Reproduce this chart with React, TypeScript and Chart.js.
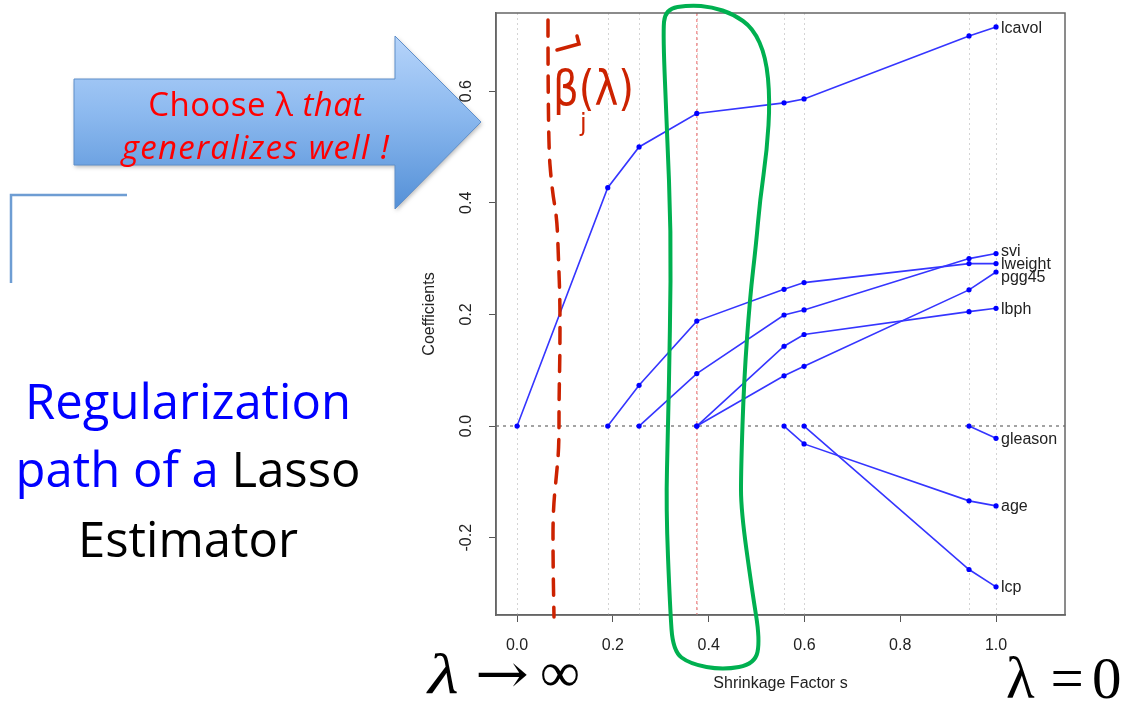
import React, { useEffect, useRef } from 'react';
import { Chart, registerables } from 'chart.js';

Chart.register(...registerables);

// ---------- data ----------
const shrinkage = [0, 0.1893, 0.2547, 0.3752, 0.5574, 0.5992, 0.9436, 1.0];
const lcavol = [0, 0.427, 0.5, 0.56, 0.579, 0.586, 0.699, 0.715];
const lweight = [null, 0, 0.073, 0.188, 0.245, 0.257, 0.291, 0.291];
const svi = [null, null, 0, 0.094, 0.199, 0.208, 0.3, 0.309];
const lbph = [null, null, null, 0, 0.143, 0.164, 0.205, 0.211];
const pgg45 = [null, null, null, 0, 0.09, 0.107, 0.244, 0.276];
const age = [null, null, null, null, 0, -0.032, -0.134, -0.143];
const lcp = [null, null, null, null, null, 0, -0.257, -0.288];
const gleason = [null, null, null, null, null, null, 0, -0.022];
const seriesNames = ['lcavol', 'lweight', 'svi', 'lbph', 'pgg45', 'age', 'lcp', 'gleason'];
const seriesValues = [lcavol, lweight, svi, lbph, pgg45, age, lcp, gleason];
const xTicks = [0, 0.2, 0.4, 0.6, 0.8, 1.0];
const yTicks = [-0.2, 0, 0.2, 0.4, 0.6];
const chosenS = 0.3752;

const AXIS_FONT = "'Liberation Sans', Arial, Helvetica, sans-serif";
// small vertical nudges (px) so crowded end labels separate like the original
const labelNudge: Record<string, number> = { svi: -3, lweight: 0, pgg45: 5, lcavol: 1 };

type Pt = [number, number];

function smoothPath(ctx: CanvasRenderingContext2D, pts: Pt[], closed: boolean) {
  ctx.beginPath();
  if (closed) {
    const n = pts.length;
    const mid = (a: Pt, b: Pt): Pt => [(a[0] + b[0]) / 2, (a[1] + b[1]) / 2];
    const m0 = mid(pts[n - 1], pts[0]);
    ctx.moveTo(m0[0], m0[1]);
    for (let i = 0; i < n; i++) {
      const p = pts[i];
      const m = mid(p, pts[(i + 1) % n]);
      ctx.quadraticCurveTo(p[0], p[1], m[0], m[1]);
    }
    ctx.closePath();
  } else {
    ctx.moveTo(pts[0][0], pts[0][1]);
    for (let i = 1; i < pts.length - 1; i++) {
      const p = pts[i];
      const m: Pt = [(p[0] + pts[i + 1][0]) / 2, (p[1] + pts[i + 1][1]) / 2];
      ctx.quadraticCurveTo(p[0], p[1], m[0], m[1]);
    }
    const last = pts[pts.length - 1];
    ctx.lineTo(last[0], last[1]);
  }
}

const slidePlugin = {
  id: 'slideDecor',
  beforeDraw(chart: any) {
    const ctx: CanvasRenderingContext2D = chart.ctx;
    ctx.save();
    ctx.fillStyle = '#ffffff';
    ctx.fillRect(0, 0, chart.width, chart.height);
    // big blue arrow
    const arrow = () => {
      ctx.beginPath();
      ctx.moveTo(74, 79);
      ctx.lineTo(395, 79);
      ctx.lineTo(395, 36);
      ctx.lineTo(481, 122);
      ctx.lineTo(395, 209);
      ctx.lineTo(395, 165);
      ctx.lineTo(74, 165);
      ctx.closePath();
    };
    const g = ctx.createLinearGradient(0, 36, 0, 209);
    g.addColorStop(0, '#b6d4fa');
    g.addColorStop(0.45, '#8cb9ef');
    g.addColorStop(1, '#5490d7');
    ctx.shadowColor = 'rgba(0,0,0,0.28)';
    ctx.shadowBlur = 4;
    ctx.shadowOffsetX = 1;
    ctx.shadowOffsetY = 2;
    arrow();
    ctx.fillStyle = g;
    ctx.fill();
    ctx.shadowColor = 'transparent';
    ctx.strokeStyle = '#5f8fca';
    ctx.lineWidth = 1;
    ctx.stroke();
    // corner bracket
    ctx.strokeStyle = '#6e9dd3';
    ctx.lineWidth = 2.5;
    ctx.beginPath();
    ctx.moveTo(127, 195);
    ctx.lineTo(11, 195);
    ctx.lineTo(11, 283);
    ctx.stroke();
    ctx.restore();
  },
  beforeDatasetsDraw(chart: any) {
    const ctx: CanvasRenderingContext2D = chart.ctx;
    const { left, right, top, bottom } = chart.chartArea;
    const xs = chart.scales.x;
    const ys = chart.scales.y;
    ctx.save();
    // step lines
    ctx.strokeStyle = '#d4d4d4';
    ctx.lineWidth = 1;
    ctx.setLineDash([2, 3]);
    shrinkage.forEach((s) => {
      const px = Math.round(xs.getPixelForValue(s)) + 0.5;
      ctx.beginPath();
      ctx.moveTo(px, top);
      ctx.lineTo(px, bottom);
      ctx.stroke();
    });
    // chosen s
    ctx.strokeStyle = '#f29a9a';
    ctx.lineWidth = 1.5;
    ctx.setLineDash([3, 3]);
    const cx = xs.getPixelForValue(chosenS);
    ctx.beginPath();
    ctx.moveTo(cx, top);
    ctx.lineTo(cx, bottom);
    ctx.stroke();
    // zero line
    ctx.strokeStyle = '#858585';
    ctx.lineWidth = 1.5;
    ctx.setLineDash([3, 4]);
    const zy = ys.getPixelForValue(0);
    ctx.beginPath();
    ctx.moveTo(left, zy);
    ctx.lineTo(right, zy);
    ctx.stroke();
    ctx.restore();
  },
  afterDatasetsDraw(chart: any) {
    const ctx: CanvasRenderingContext2D = chart.ctx;
    const { left, right, top, bottom } = chart.chartArea;
    const xs = chart.scales.x;
    const ys = chart.scales.y;
    ctx.save();
    // frame
    ctx.strokeStyle = '#666';
    ctx.lineWidth = 1.5;
    ctx.strokeRect(left, top, right - left, bottom - top);
    // rotated y tick labels
    ctx.fillStyle = '#222';
    ctx.font = `16px ${AXIS_FONT}`;
    ctx.textAlign = 'center';
    ctx.textBaseline = 'middle';
    yTicks.forEach((v) => {
      const py = ys.getPixelForValue(v);
      ctx.save();
      ctx.translate(467, py);
      ctx.rotate(-Math.PI / 2);
      ctx.fillText(v.toFixed(1), 0, 0);
      ctx.restore();
    });
    // axis titles
    ctx.save();
    ctx.translate(430, (top + bottom) / 2);
    ctx.rotate(-Math.PI / 2);
    ctx.fillText('Coefficients', 0, 0);
    ctx.restore();
    ctx.fillText('Shrinkage Factor s', (left + right) / 2, 684);
    // series labels at s = 1
    ctx.textAlign = 'left';
    const lastIdx = shrinkage.length - 1;
    const lx = xs.getPixelForValue(shrinkage[lastIdx]) + 5;
    seriesValues.forEach((vals, i) => {
      const v = vals[lastIdx] as number;
      const name = seriesNames[i];
      ctx.fillText(name, lx, ys.getPixelForValue(v) + 1 + (labelNudge[name] || 0));
    });
    // hand-drawn red dashed curve
    ctx.strokeStyle = '#cc2200';
    ctx.lineWidth = 3.5;
    ctx.lineCap = 'round';
    ctx.setLineDash([16, 12]);
    smoothPath(
      ctx,
      [
        [548, 20], [548, 140], [552, 190], [557, 218], [558.5, 260], [560, 300], [560, 350],
        [559, 400], [559, 445], [557, 470], [553, 510], [553, 560], [554, 617],
      ],
      false
    );
    ctx.stroke();
    // hat over beta
    ctx.setLineDash([]);
    ctx.lineWidth = 3.5;
    ctx.beginPath();
    ctx.moveTo(557, 50);
    ctx.lineTo(579, 44);
    ctx.lineTo(577, 36);
    ctx.stroke();
    // green loop
    ctx.strokeStyle = '#00b050';
    ctx.lineWidth = 4;
    ctx.lineJoin = 'round';
    smoothPath(
      ctx,
      [
        [665, 9], [690, 5], [712, 7], [733, 14], [753, 28], [766, 57], [770, 100], [767, 150],
        [760, 200], [756, 245], [750, 297], [744, 380], [741, 470], [741, 510], [752, 590],
        [760, 640], [755, 664], [723, 670], [690, 664], [673, 651], [670, 607], [666, 507],
        [668, 430], [670, 330], [671, 232], [667, 130], [663, 35],
      ],
      true
    );
    ctx.stroke();
    ctx.restore();
  },
};

const abs = (s: React.CSSProperties): React.CSSProperties => ({
  position: 'absolute',
  whiteSpace: 'nowrap',
  lineHeight: 1,
  margin: 0,
  pointerEvents: 'none',
  ...s,
});

export default function App() {
  const canvasRef = useRef<HTMLCanvasElement | null>(null);

  useEffect(() => {
    const canvas = canvasRef.current;
    if (!canvas) return;
    const datasets = seriesValues.map((vals, i) => ({
      label: seriesNames[i],
      data: shrinkage
        .map((s, j) => ({ x: s, y: vals[j] }))
        .filter((p) => p.y !== null),
      showLine: true,
      borderColor: '#3535ff',
      borderWidth: 1.6,
      pointRadius: 2.6,
      pointBackgroundColor: '#0000ff',
      pointBorderWidth: 0,
      tension: 0,
    }));
    const chart = new Chart(canvas, {
      type: 'scatter',
      data: { datasets: datasets as any },
      plugins: [slidePlugin],
      options: {
        animation: false,
        responsive: false,
        maintainAspectRatio: false,
        events: [],
        layout: { padding: { left: 0, top: 13, right: 62, bottom: 0 } },
        plugins: { legend: { display: false }, tooltip: { enabled: false }, title: { display: false } },
        scales: {
          x: {
            type: 'linear',
            min: -0.044,
            max: 1.144,
            afterBuildTicks: (scale: any) => {
              scale.ticks = xTicks.map((v) => ({ value: v }));
            },
            afterFit: (scale: any) => {
              scale.height = 87;
            },
            grid: { drawOnChartArea: false, drawTicks: true, tickLength: 7, color: '#555', lineWidth: 1 },
            border: { display: true, color: '#666', width: 1.5 },
            ticks: {
              color: '#222',
              padding: 14,
              font: { family: AXIS_FONT, size: 16 },
              maxRotation: 0,
              autoSkip: false,
              callback: (v: any) => Number(v).toFixed(1),
            },
          },
          y: {
            type: 'linear',
            min: -0.3385,
            max: 0.74,
            afterBuildTicks: (scale: any) => {
              scale.ticks = yTicks.map((v) => ({ value: v }));
            },
            afterFit: (scale: any) => {
              scale.width = 496;
            },
            grid: { drawOnChartArea: false, drawTicks: true, tickLength: 7, color: '#555', lineWidth: 1 },
            border: { display: true, color: '#666', width: 1.5 },
            ticks: { display: false },
          },
        },
      },
    });
    return () => chart.destroy();
  }, []);

  const red = '#ff0000';
  const slideFont = "'Open Sans', 'Noto Sans', sans-serif";
  const serif = "'Liberation Serif', 'DejaVu Serif', serif";
  const handRed = '#cc2200';

  return (
    <div
      style={{
        position: 'fixed',
        left: 0,
        top: 0,
        width: 1127,
        height: 702,
        background: '#fff',
        overflow: 'hidden',
      }}
    >
      <canvas
        ref={canvasRef}
        width={1127}
        height={702}
        style={{ position: 'absolute', left: 0, top: 0, width: 1127, height: 702 }}
      />
      {/* arrow text */}
      <div
        style={abs({
          left: 256,
          top: 81,
          transform: 'translateX(-50%)',
          font: `33px ${slideFont}`,
          letterSpacing: 0.5,
          color: red,
        })}
      >
        Choose λ <i>that</i>
      </div>
      <div
        style={abs({
          left: 256,
          top: 124,
          transform: 'translateX(-50%)',
          font: `italic 33px ${slideFont}`,
          letterSpacing: 1.3,
          color: red,
        })}
      >
        generalizes well !
      </div>
      {/* slide title */}
      <div style={abs({ left: 188, top: 367, transform: 'translateX(-50%)', font: `49px ${slideFont}`, color: '#0000ff' })}>
        Regularization
      </div>
      <div style={abs({ left: 188, top: 435, transform: 'translateX(-50%)', font: `49px ${slideFont}`, color: '#0000ff' })}>
        path of a <span style={{ color: '#000' }}>Lasso</span>
      </div>
      <div style={abs({ left: 188, top: 505, transform: 'translateX(-50%)', font: `49px ${slideFont}`, color: '#000' })}>
        Estimator
      </div>
      {/* handwritten beta */}
      <div
        style={abs({
          left: 553,
          top: 60,
          font: `48px 'DejaVu Sans', sans-serif`,
          color: handRed,
          transform: 'scaleX(0.84)',
          transformOrigin: '0 0',
        })}
      >
        β(λ)
      </div>
      <div style={abs({ left: 580, top: 109, font: `24px 'DejaVu Sans', sans-serif`, color: handRed })}>j</div>
      {/* lambda annotations */}
      <div
        style={abs({
          left: 428,
          top: 640,
          font: `italic 58px ${serif}`,
          color: '#000',
          transform: 'scaleX(1.22)',
          transformOrigin: '0 0',
        })}
      >
        λ
      </div>
      <div
        style={abs({
          left: 475,
          top: 641,
          font: `56px 'DejaVu Serif', serif`,
          color: '#000',
          transform: 'scaleX(1.15)',
          transformOrigin: '0 0',
        })}
      >
        →
      </div>
      <div style={abs({ left: 540, top: 640, font: `56px ${serif}`, color: '#000' })}>∞</div>
      <div style={abs({ left: 1006, top: 644, font: `59px ${serif}`, color: '#000' })}>
        <span>λ</span>
        <span style={{ marginLeft: 16 }}>=</span>
        <span style={{ marginLeft: 8 }}>0</span>
      </div>
    </div>
  );
}
